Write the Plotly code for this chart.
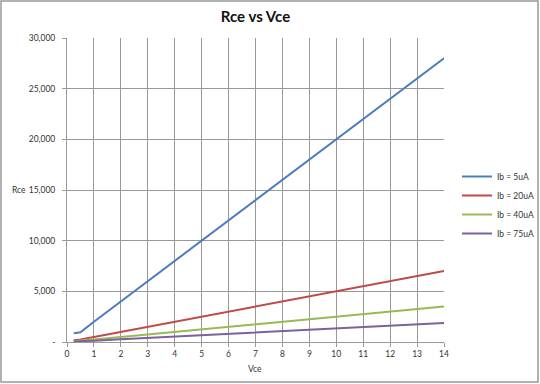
import plotly.graph_objects as go

vce = [0.25, 0.5, 1, 2, 3, 4, 5, 6, 7, 8, 9, 10, 11, 12, 13, 14]
rce_5uA = [860, 960, 2000, 4000, 6000, 8000, 10000, 12000, 14000, 16000, 18000, 20000, 22000, 24000, 26000, 28000]
rce_20uA = [180, 260, 500, 1000, 1500, 2000, 2500, 3000, 3500, 4000, 4500, 5000, 5500, 6000, 6500, 7000]
rce_40uA = [100, 130, 250, 500, 750, 1000, 1250, 1500, 1750, 2000, 2250, 2500, 2750, 3000, 3250, 3500]
rce_75uA = [60, 70, 133, 267, 400, 533, 667, 800, 933, 1067, 1200, 1333, 1467, 1600, 1733, 1867]
series_names = ["Ib = 5uA", "Ib = 20uA", "Ib = 40uA", "Ib = 75uA"]
colors = ["#4A7EBB", "#BE4B48", "#98B954", "#7D60A0"]

x_ticks = list(range(0, 15))
y_ticks = [0, 5000, 10000, 15000, 20000, 25000, 30000]
y_ticktext = ["-", "5,000", "10,000", "15,000", "20,000", "25,000", "30,000"]

fig = go.Figure()
for name, ys, c in zip(series_names, [rce_5uA, rce_20uA, rce_40uA, rce_75uA], colors):
    fig.add_trace(go.Scatter(x=vce, y=ys, mode="lines", name=name,
                             line=dict(color=c, width=2)))

W, H = 540, 384
ml, mr, mt, mb = 67, 96, 38, 42
pw, ph = W - ml - mr, H - mt - mb

font = "Lato, Liberation Sans, Arial, sans-serif"
fig.update_layout(
    width=W, height=H,
    margin=dict(l=ml, r=mr, t=mt, b=mb, autoexpand=False),
    paper_bgcolor="white", plot_bgcolor="white",
    font=dict(family=font, size=8.5, color="#333"),
    title=dict(text="<b>Rce vs Vce</b>", x=0.5, xanchor="center", xref="paper",
               y=1 - 17 / H, yanchor="middle",
               font=dict(family=font, size=15, color="#111")),
    xaxis=dict(range=[0, 14], tickvals=x_ticks, showgrid=True, gridcolor="#999", gridwidth=1,
               showline=True, linecolor="#999", mirror=False, ticks="outside", ticklen=4,
               tickcolor="#999", zeroline=False, tickfont=dict(size=8.5, color="#333")),
    yaxis=dict(range=[0, 30000], tickvals=y_ticks, ticktext=y_ticktext, showgrid=True,
               gridcolor="#999", gridwidth=1, showline=True, linecolor="#999", ticks="outside",
               ticklen=4, tickcolor="#999", zeroline=False, ticklabelstandoff=5,
               tickfont=dict(size=8.5, color="#333")),
    legend=dict(xref="container", yref="container", x=457 / W, y=1 - 205 / H,
                xanchor="left", yanchor="middle",
                font=dict(size=8.5, color="#333"), tracegroupgap=0, itemwidth=30,
                bgcolor="rgba(0,0,0,0)"),
    showlegend=True,
)

fig.add_annotation(text="Rce", xref="paper", yref="paper", x=-(ml - 19) / pw, y=(H - mb - 190) / ph,
                   showarrow=False, font=dict(size=8.5, color="#333"), xanchor="center", yanchor="middle")
fig.add_annotation(text="Vce", xref="paper", yref="paper", x=(255 - ml) / pw, y=-(369 - (H - mb)) / ph,
                   showarrow=False, font=dict(size=8.5, color="#333"), xanchor="center", yanchor="middle")

fig.add_shape(type="rect", xref="paper", yref="paper",
              x0=-(ml - 1) / pw, x1=1 + (mr - 2) / pw, y0=-(mb - 2) / ph, y1=1 + (mt - 1) / ph,
              line=dict(color="#999", width=1.5), fillcolor="rgba(0,0,0,0)", layer="below")

fig.write_html("out.html", config={"displayModeBar": False},
               post_script="document.body.style.margin='0';")
